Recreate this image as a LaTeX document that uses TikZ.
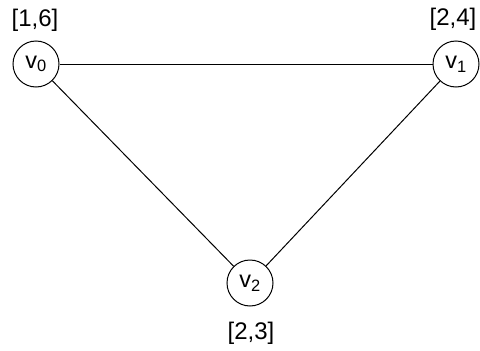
\documentclass[tikz,border=0pt]{standalone}
\usepackage{fontspec}
\setmainfont{Liberation Sans}
\begin{document}
\begin{tikzpicture}[x=1pt,y=-1pt,
  vert/.style={draw,circle,line width=1pt,minimum size=46pt,inner sep=0pt,font=\fontsize{23.5}{26}\selectfont},
  lab/.style={inner sep=0pt,font=\fontsize{24}{27}\selectfont},
  edge/.style={line width=1pt}]
\useasboundingbox (0,0) rectangle (480,351);
\node[vert] (v0) at (36,64) {v\textsubscript{0}};
\node[vert] (v1) at (456,64) {v\textsubscript{1}};
\node[vert] (v2) at (250,283) {v\textsubscript{2}};
\node[lab] (l0) at (35,20) {[1,6]};
\node[lab] (l1) at (453,19) {[2,4]};
\node[lab] (l2) at (251,333) {[2,3]};
\draw[edge] (v0) -- (v1);
\draw[edge] (v0) -- (v2);
\draw[edge] (v1) -- (v2);
\end{tikzpicture}
\end{document}
